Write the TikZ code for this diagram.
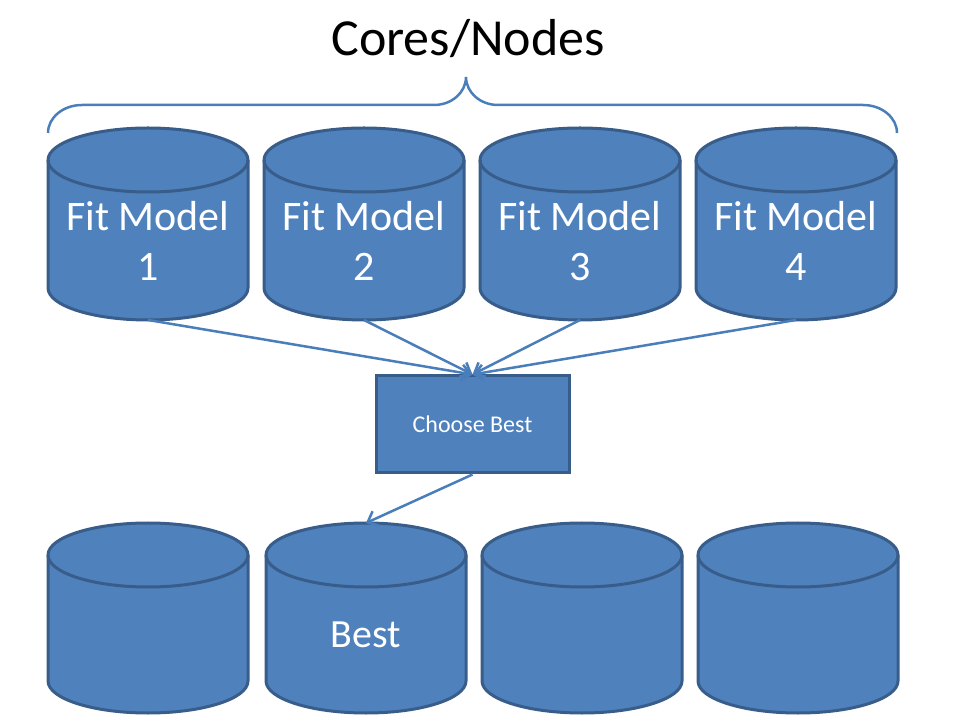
\documentclass[tikz,border=0pt]{standalone}
\usepackage{fontspec}
\setmainfont{Carlito}
\usetikzlibrary{arrows.meta}

\definecolor{drumfill}{HTML}{4F81BD}
\definecolor{drumedge}{HTML}{385D8A}
\definecolor{linkblue}{HTML}{4A7EBB}

\tikzset{
  drumline/.style={fill=drumfill,draw=drumedge,line width=3pt},
  drumtext/.style={text=white,align=center,font=\fontsize{42}{50}\selectfont},
  choosebox/.style={drumline,minimum width=193pt,minimum height=97pt,inner sep=0pt,
    text=white,font=\fontsize{24}{28}\selectfont},
  link/.style={draw=linkblue,line width=2.5pt,-{Straight Barb[length=9pt,width=16pt]}},
  brace/.style={draw=linkblue,line width=2.5pt},
}

% cylinder: #1 name, #2 x centre, #3 y centre, #4 height
\newcommand{\drum}[4]{
  \filldraw[drumline] (#2-100,#3+#4/2-32) -- (#2-100,#3-#4/2+32)
    arc[start angle=180,end angle=360,x radius=100,y radius=32]
    -- (#2+100,#3+#4/2-32)
    arc[start angle=0,end angle=180,x radius=100,y radius=32] -- cycle;
  \draw[drumline,fill=none] (#2-100,#3+#4/2-32)
    arc[start angle=180,end angle=360,x radius=100,y radius=32];
  \coordinate (#1-top) at (#2,#3+#4/2);
  \coordinate (#1-bot) at (#2,#3-#4/2);
}

\begin{document}
\begin{tikzpicture}[x=1pt,y=1pt]
  \useasboundingbox (0,0) rectangle (960,720);

  % title and brace
  \node[font=\fontsize{52}{60}\selectfont] (cores) at (468,681) {Cores/Nodes};
  \draw[brace] (48,587) arc[start angle=180,end angle=90,x radius=34,y radius=28]
    -- (434,615) arc[start angle=270,end angle=360,x radius=32,y radius=28]
    arc[start angle=180,end angle=270,x radius=32,y radius=28]
    -- (863,615) arc[start angle=90,end angle=0,x radius=34,y radius=28];

  % fit models
  \drum{fit1}{148}{496}{192}
  \drum{fit2}{364}{496}{192}
  \drum{fit3}{580}{496}{192}
  \drum{fit4}{796}{496}{192}
  \node[drumtext] (m1) at (148,479) {Fit Model\\1};
  \node[drumtext] (m2) at (364,479) {Fit Model\\2};
  \node[drumtext] (m3) at (580,479) {Fit Model\\3};
  \node[drumtext] (m4) at (796,479) {Fit Model\\4};

  \node[choosebox] (choose) at (472.5,295.5) {Choose Best};

  % result cores
  \drum{res1}{148}{102}{190}
  \drum{res2}{366}{102}{190}
  \drum{res3}{582}{102}{190}
  \drum{res4}{798}{102}{190}
  \node[drumtext,font=\fontsize{40}{48}\selectfont] (best) at (366,85) {Best};

  \foreach \i in {1,...,4}
    \draw[link] (fit\i-bot) -- (choose.north);
  \draw[link] (choose.south) -- (res2-top);
\end{tikzpicture}
\end{document}
